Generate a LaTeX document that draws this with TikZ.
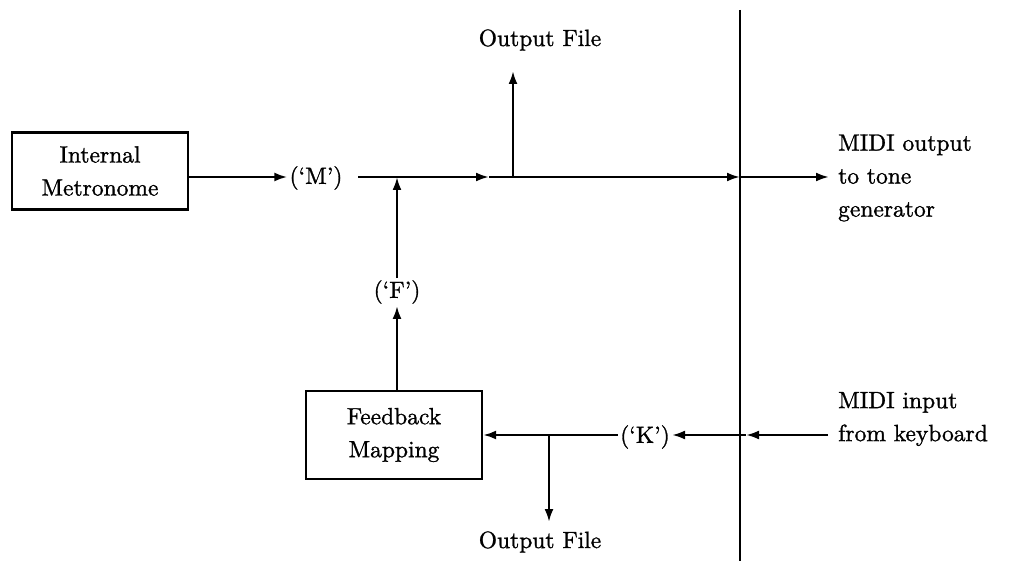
\documentclass[tikz,border=0pt]{standalone}
\usepackage{fontspec}
\setmainfont{lmroman10-regular.otf}[FakeBold=1.2]
\usetikzlibrary{arrows.meta}
\begin{document}
\begin{tikzpicture}[x=1pt,y=-1pt,
  every node/.style={font=\fontsize{23.5}{33}\selectfont},
  blk/.style={draw,line width=2.2pt,minimum width=176pt,inner sep=0pt,align=center},
  lbl/.style={inner sep=2pt},
  arr/.style={line width=2.4pt,-{Latex[length=13pt,width=9pt]}},
  ln/.style={line width=2.4pt}]
\useasboundingbox (0,0) rectangle (1014,561);
% blocks
\node[blk,minimum height=77pt] (metro) at (100,171) {Internal\\Metronome};
\node[blk,minimum height=88pt] (feed) at (394,435) {Feedback\\Mapping};
% labels
\node[lbl] (M) at (316,178) {(`M')};
\node[lbl] (F) at (397,292) {(`F')};
\node[lbl] (K) at (645,437) {(`K')};
\node[lbl] (out1) at (540,40) {Output File};
\node[lbl] (out2) at (540,542) {Output File};
\node[lbl,align=left,anchor=west] (midiout) at (836,178) {MIDI output\\to tone\\generator};
\node[lbl,align=left,anchor=west] (midiin) at (836,419) {MIDI input\\from keyboard};
% coordinates
\coordinate (vtop) at (740,10);
\coordinate (vbot) at (740,561);
\coordinate (mstart) at (358,177);
\coordinate (fj) at (397,177);
\coordinate (mid1) at (489,177);
\coordinate (oj) at (513,177);
\coordinate (otip) at (513,71);
\coordinate (vl1) at (740,177);
\coordinate (oR) at (829,177);
\coordinate (kR) at (828,435);
\coordinate (vl2) at (746,435);
\coordinate (kj) at (549,435);
\coordinate (ktip) at (549,522);
% separator line
\draw[line width=2pt] (vtop) -- (vbot);
% top path
\draw[arr] (metro.east |- 0,177) -- (M.west |- 0,177);
\draw[ln] (mstart) -- (fj);
\draw[arr] (fj) -- (mid1);
\draw[arr] (mid1) -- (vl1);
\draw[arr] (vl1) -- (oR);
\draw[arr] (oj) -- (otip);
% feedback
\draw[arr] (F.south |- feed.north) -- (F.south);
\draw[arr] (F.north) -- (fj);
% keyboard path
\draw[arr] (kR) -- (vl2);
\draw[arr] (vl2) -- (K.east |- 0,435);
\draw[arr] (K.west |- 0,435) -- (feed.east |- 0,435);
\draw[arr] (kj) -- (ktip);
\end{tikzpicture}
\end{document}
